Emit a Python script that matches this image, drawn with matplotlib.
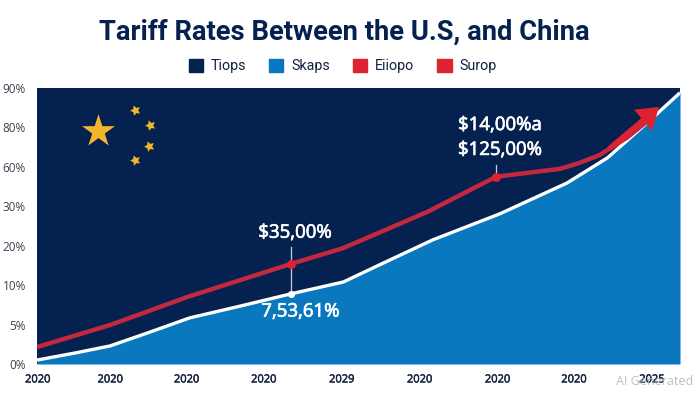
import matplotlib
matplotlib.use("Agg")
import matplotlib.pyplot as plt
import matplotlib.patheffects as pe
from matplotlib.patches import Patch, FancyArrowPatch

NAVY = "#04214f"
BLUE = "#0a78bf"
RED = "#c4283f"
BRIGHT = "#dd2230"
GOLD = "#f5b52a"

title = "Tariff Rates Between the U.S, and China"
legend_labels = ["Tiops", "Skaps", "Eiiopo", "Surop"]
legend_colors = [NAVY, BLUE, BRIGHT, BRIGHT]
y_tick_labels = ["0%", "5%", "10%", "20%", "30%", "60%", "80%", "90%"]
x_tick_labels = ["2020", "2020", "2020", "2020", "2029", "2020", "2020", "2020", "2025"]
x_tick_positions = [0.01, .94, 1.92, 2.91, 3.91, 4.91, 5.91, 6.89, 7.89]

# Positions on the evenly spaced (ordinal) tick scale
white_x = [0, .49, .94, 1.45, 1.96, 2.61, 3.26, 3.93, 4.40, 5.08, 5.94, 6.80, 7.32, 7.83, 8.25]
white_y = [.10, .28, .46, .81, 1.17, 1.47, 1.78, 2.08, 2.52, 3.15, 3.81, 4.59, 5.23, 6.12, 6.88]
red_x = [0, .94, 1.93, 3.26, 3.93, 5.01, 5.89, 6.71, 6.96, 7.22, 7.35, 7.57, 7.82]
red_y = [.43, .99, 1.70, 2.54, 2.94, 3.86, 4.75, 4.95, 5.10, 5.30, 5.47, 5.74, 6.14]
arrow_tip = (7.98, 6.52)

red_marks_x = [3.26, 5.89]
red_marks_y = [2.54, 4.75]
white_mark = (3.26, 1.78)

big_star = (.78, 5.91)
small_stars_x = [1.26, 1.45, 1.44, 1.26]
small_stars_y = [6.45, 6.07, 5.53, 5.18]

fig = plt.figure(figsize=(7, 3.93), dpi=100, facecolor="white")
ax = fig.add_axes([37 / 700, 29 / 393, 643 / 700, 276 / 393])
ax.set_xlim(0, 8.25)
ax.set_ylim(0, 7)
ax.set_facecolor(NAVY)
for s in ax.spines.values():
    s.set_visible(False)

ax.fill_between(white_x, white_y, 0, color=BLUE, lw=0, zorder=1)
ax.plot(white_x, white_y, color="white", lw=2.4, zorder=2, solid_capstyle="butt")
ax.plot(red_x, red_y, color=RED, lw=3.2, zorder=3, solid_capstyle="butt")
ax.add_patch(FancyArrowPatch((red_x[-3], red_y[-3]), arrow_tip, color=BRIGHT, lw=0, zorder=4,
                             arrowstyle="simple,head_width=20,head_length=15,tail_width=4",
                             shrinkA=0, shrinkB=0))

ax.plot([white_mark[0]] * 2, [white_mark[1], red_marks_y[0]], color="#c5ccd6", lw=0.9, zorder=2.5)
ax.plot([white_mark[0]] * 2, [red_marks_y[0], 2.97], color="#c5ccd6", lw=0.9, zorder=2.5)
ax.plot([red_marks_x[1]] * 2, [red_marks_y[1], 5.05], color="#c5ccd6", lw=0.9, zorder=2.5)
ax.scatter(red_marks_x, red_marks_y, s=42, color=BRIGHT, zorder=5, lw=0)
ax.scatter(*white_mark, s=26, color="white", zorder=5, lw=0)

ax.scatter(*big_star, marker="*", s=620, color=GOLD, lw=0, zorder=3)
ax.scatter(small_stars_x, small_stars_y, marker=(5, 1, 20), s=62, color=GOLD, lw=0, zorder=3)

TXT = dict(color="white", ha="center", va="center", family="Open Sans", fontsize=13.4, zorder=6,
           path_effects=[pe.withStroke(linewidth=0.5, foreground="white")])
ax.text(3.31, 3.33, "$35,00%", **TXT)
ax.text(3.38, 1.33, "7,53,61%", **TXT)
ax.text(5.94, 6.06, "$14,00%a", **TXT)
ax.text(5.94, 5.43, "$125,00%", **TXT)

ax.set_xticks(x_tick_positions, x_tick_labels, family="Open Sans", fontsize=8, color="#14213d",
              path_effects=[pe.withStroke(linewidth=0.3, foreground="#14213d")])
ax.set_yticks(range(len(y_tick_labels)), y_tick_labels, family="Open Sans", fontsize=8.5,
              color="#3a4250")
ax.tick_params(length=0)
ax.tick_params(axis="x", pad=7.5)
ax.tick_params(axis="y", pad=8)

fig.text(0.4925, 0.917, title, ha="center", va="center", family="Roboto", weight="bold",
         fontsize=19.7, color=NAVY)
handles = [Patch(color=c) for c in legend_colors]
fig.legend(handles, legend_labels, loc="center", bbox_to_anchor=(0.4895, 0.832), ncol=4, frameon=False,
           prop={"family": "Roboto", "size": 10.3}, labelcolor="#14213d", handlelength=1.0,
           handleheight=1.0, handletextpad=0.55, columnspacing=1.6)
fig.text(0.991, 0.03, "AI Generated", ha="right", va="center", family="Open Sans", fontsize=9,
         color="#b4b8bd", alpha=0.9)

fig.savefig("out.png", dpi=100)
